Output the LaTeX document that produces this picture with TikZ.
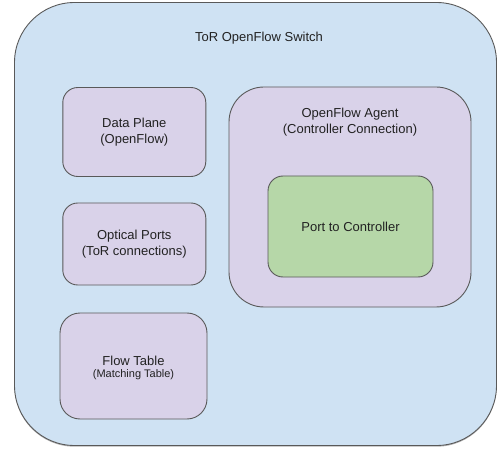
\documentclass[tikz,border=0pt]{standalone}
\usepackage{fontspec}
\setmainfont{Liberation Sans}
\usetikzlibrary{shadows}
\definecolor{switchblue}{HTML}{CFE2F3}
\definecolor{partpurple}{HTML}{D9D2E9}
\definecolor{portgreen}{HTML}{B6D7A8}
\definecolor{edgegray}{HTML}{595959}
\definecolor{textgray}{HTML}{222222}
\tikzset{
	part/.style={draw=edgegray, line width=0.9pt, rounded corners=15pt,
		fill=partpurple, align=center, text=textgray, inner sep=0pt,
		font=\fontsize{13}{16}\selectfont},
	label text/.style={align=center, text=textgray, inner sep=0pt,
		font=\fontsize{13}{16}\selectfont}
}
\begin{document}
\begin{tikzpicture}[x=1pt,y=-1pt]
	\useasboundingbox (0,0) rectangle (498,449);
	%外框: 交换机
	\node (switch) [draw=edgegray, line width=0.9pt, fill=switchblue,
		rounded corners=60pt, minimum width=482pt, minimum height=443pt,
		drop shadow={shadow xshift=0pt, shadow yshift=-1.2pt, opacity=.6, fill=gray}]
		at (255.5,224) {};
	\node (title) [label text] at (259,38) {ToR OpenFlow Switch};
	%左侧三个模块
	\node (data) [part, minimum width=143pt, minimum height=89pt]
		at (134.3,132) {Data Plane\\(OpenFlow)};
	\node (optical) [part, minimum width=143pt, minimum height=82pt]
		at (134.3,244) {Optical Ports\\(ToR connections)};
	\node (flow) [part, minimum width=147pt, minimum height=106pt, rounded corners=20pt]
		at (133.5,366) {};
	\node (flowtext) [label text] at (133.5,367.5)
		{Flow Table\\[-4pt]{\fontsize{11}{13}\selectfont(Matching Table)}};
	%右侧: agent 和控制器端口
	\node (agent) [part, minimum width=242pt, minimum height=220pt, rounded corners=35pt]
		at (350,197) {};
	\node (agenttitle) [label text] at (350,122) {OpenFlow Agent\\(Controller Connection)};
	\node (port) [part, fill=portgreen, minimum width=165pt, minimum height=101pt]
		at (350.5,226.5) {Port to Controller};
\end{tikzpicture}
\end{document}
